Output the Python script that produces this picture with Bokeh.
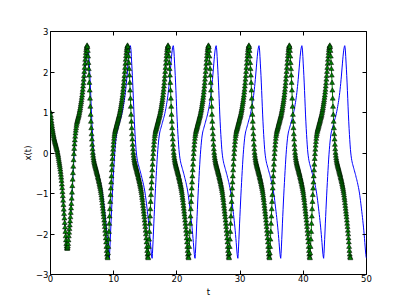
from bokeh.plotting import figure
from bokeh.models import LinearAxis, FixedTicker, Range1d, Title
from bokeh.embed import file_html
from bokeh.resources import INLINE

# ---- data ----
# initial transient, t = 0 .. 2.60 in steps of 0.05
t_step = 0.05
x_descent = [1.00, 0.92, 0.85, 0.78, 0.72, 0.66, 0.60, 0.55, 0.50, 0.45,
             0.41, 0.37, 0.33, 0.30, 0.27, 0.24, 0.21, 0.18, 0.15, 0.12,
             0.09, 0.06, 0.02, -0.02, -0.06, -0.10, -0.15, -0.20, -0.25, -0.30,
             -0.35, -0.41, -0.47, -0.54, -0.61, -0.69, -0.78, -0.87, -0.97, -1.07,
             -1.18, -1.29, -1.40, -1.51, -1.62, -1.73, -1.84, -1.95, -2.06, -2.16,
             -2.25, -2.31, -2.35]
# first rise out of the first (shallower) trough
first_rise_x = [-2.37, -2.35, -2.31, -2.25, -2.16, -2.06, -1.97, -1.88, -1.79, -1.69,
                -1.59, -1.48, -1.37, -1.26, -1.13, -0.98, -0.82, -0.66, -0.50, -0.34,
                -0.18, -0.03, 0.10, 0.21, 0.31, 0.40, 0.48, 0.55, 0.61, 0.67,
                0.72]
# one steady cycle, trough -> peak -> trough, 128 equally spaced samples
cycle_x = [-2.60, -2.48, -2.32, -2.14, -1.95, -1.75, -1.57, -1.39, -1.21, -1.04,
           -0.88, -0.73, -0.58, -0.43, -0.29, -0.15, -0.03, 0.08, 0.18, 0.27,
           0.35, 0.42, 0.47, 0.52, 0.55, 0.58, 0.61, 0.64, 0.67, 0.70,
           0.73, 0.76, 0.79, 0.82, 0.85, 0.88, 0.91, 0.94, 0.98, 1.02,
           1.06, 1.10, 1.15, 1.20, 1.25, 1.30, 1.36, 1.42, 1.49, 1.56,
           1.64, 1.72, 1.81, 1.90, 2.00, 2.10, 2.20, 2.30, 2.39, 2.47,
           2.54, 2.59, 2.63, 2.65,
           2.61, 2.52, 2.38, 2.22, 2.07, 1.91, 1.73, 1.54, 1.34, 1.14,
           0.94, 0.77, 0.61, 0.46, 0.33, 0.20, 0.09, 0.00, -0.07, -0.13,
           -0.18, -0.22, -0.26, -0.29, -0.32, -0.35, -0.38, -0.41, -0.44, -0.47,
           -0.50, -0.53, -0.56, -0.60, -0.63, -0.66, -0.70, -0.73, -0.77, -0.81,
           -0.85, -0.89, -0.94, -0.99, -1.05, -1.11, -1.17, -1.24, -1.31, -1.38,
           -1.45, -1.52, -1.59, -1.67, -1.75, -1.83, -1.92, -2.01, -2.11, -2.21,
           -2.32, -2.42, -2.51, -2.57]
# trough times of each curve
green_troughs = [2.65, 9.05, 15.45, 21.85, 28.25, 34.65, 41.05, 47.45]
blue_troughs = [2.65, 9.30, 16.08, 22.87, 29.65, 36.43, 43.22, 50.00]

x_ticks = [0, 10, 20, 30, 40, 50]
y_ticks = [-3, -2, -1, 0, 1, 2, 3]
x_label = "t"
y_label = "x(t)"


def build(troughs):
    ts = [i * t_step for i in range(len(x_descent))]
    xs = list(x_descent)
    n = len(cycle_x)
    for k in range(len(troughs) - 1):
        T0, T1 = troughs[k], troughs[k + 1]
        for j in range(n):
            v = cycle_x[j]
            if k == 0 and j < len(first_rise_x):
                v = first_rise_x[j]
            ts.append(T0 + j * (T1 - T0) / n)
            xs.append(v)
    ts.append(troughs[-1])
    xs.append(cycle_x[0])
    return ts, xs


bt, bx = build(blue_troughs)
gt, gx = build(green_troughs)

FONT = "DejaVu Sans"
p = figure(width=400, height=300, output_backend="svg", toolbar_location=None,
           x_range=Range1d(0, 50), y_range=Range1d(-3, 3),
           min_border_left=50, min_border_top=31, min_border_right=34,
           min_border_bottom=26, frame_width=316, frame_height=243)
p.grid.visible = False
p.outline_line_color = "black"
p.outline_line_width = 1
p.background_fill_color = "white"

p.line(bt, bx, line_color="#0000ff", line_width=1)
p.line(gt, gx, line_color="#008000", line_width=1)
p.scatter(gt, gx, marker="triangle", size=5, fill_color="#008000",
          line_color="black", line_width=0.5)

minus = {v: ("\u2212" + str(-v)) for v in y_ticks if v < 0}

for ax in p.xaxis:
    ax.ticker = FixedTicker(ticks=x_ticks)
for ax in p.yaxis:
    ax.ticker = FixedTicker(ticks=y_ticks)
    ax.major_label_overrides = minus

for ax in list(p.xaxis) + list(p.yaxis):
    ax.axis_line_color = None
    ax.major_tick_in = 4
    ax.major_tick_out = 0
    ax.minor_tick_line_color = None
    ax.major_tick_line_color = "#000000"
    ax.major_label_text_font = FONT
    ax.major_label_text_font_size = "8.5px"
    ax.major_label_text_color = "#000000"

p.xaxis.major_label_standoff = 0
p.yaxis.major_label_standoff = 2

top = LinearAxis(ticker=FixedTicker(ticks=x_ticks), major_tick_in=4, major_tick_out=0,
                 minor_tick_line_color=None, axis_line_color=None,
                 major_label_text_color=None, major_label_standoff=0)
right = LinearAxis(ticker=FixedTicker(ticks=y_ticks), major_tick_in=4, major_tick_out=0,
                   minor_tick_line_color=None, axis_line_color=None,
                   major_label_text_color=None, major_label_standoff=0)
p.add_layout(top, "above")
p.add_layout(right, "right")

xt = Title(text=x_label, align="center", text_font=FONT, text_font_size="8.5px",
           text_font_style="normal", text_color="#000000", standoff=0, offset=0)
yt = Title(text=y_label, align="center", text_font=FONT, text_font_size="8.5px",
           text_font_style="normal", text_color="#000000", standoff=0, offset=0)
p.add_layout(xt, "below")
p.add_layout(yt, "left")

open("out.html", "w").write(file_html(p, INLINE))
